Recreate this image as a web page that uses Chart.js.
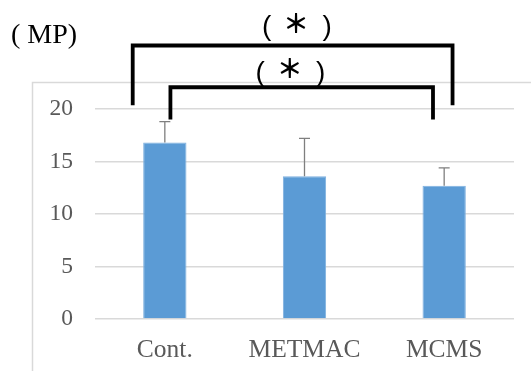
<!DOCTYPE html>
<html>
<head>
<meta charset="utf-8">
<script src="https://cdn.jsdelivr.net/npm/chart.js@4.4.1/dist/chart.umd.min.js"></script>
<style>
  html, body { margin: 0; padding: 0; background: #fff; }
  canvas { display: block; }
</style>
</head>
<body>
<canvas id="chart" width="531" height="371"></canvas>
<script>
// Datos del gráfico
const categorias = ['Cont.', 'METMAC', 'MCMS'];
const medias = [16.8, 13.6, 12.7];
const errores = [2.0, 3.6, 1.7];
const ticksY = [0, 5, 10, 15, 20];

// Corchetes de significancia: x en índice de categoría, y en valor del eje
const corchetes = [
  { x1: -0.23, x2: 2.06, yTop: 26.05, yBottom: 20.35, labelX: 0.94, labelY: 27.74 },
  { x1: 0.04, x2: 1.92, yTop: 22.07, yBottom: 19.0, labelX: 0.894, labelY: 23.44 }
];

const serif = '"Liberation Serif", "Times New Roman", serif';

// Plugin para marco, barras de error, corchetes y unidad
const extras = {
  id: 'extras',
  beforeDraw(chart) {
    const ctx = chart.ctx;
    ctx.save();
    ctx.strokeStyle = '#d9d9d9';
    ctx.lineWidth = 1.5;
    ctx.beginPath();
    ctx.moveTo(32.5, 371);
    ctx.lineTo(32.5, 82.5);
    ctx.lineTo(531, 82.5);
    ctx.stroke();
    ctx.restore();
  },
  afterDatasetsDraw(chart) {
    const ctx = chart.ctx;
    const x = chart.scales.x;
    const y = chart.scales.y;
    ctx.save();

    // barras de error (sólo hacia arriba)
    ctx.strokeStyle = '#7f7f7f';
    ctx.lineWidth = 1.3;
    medias.forEach((m, i) => {
      const px = x.getPixelForValue(i);
      const top = y.getPixelForValue(m + errores[i]);
      ctx.beginPath();
      ctx.moveTo(px, y.getPixelForValue(m));
      ctx.lineTo(px, top);
      ctx.moveTo(px - 5.5, top);
      ctx.lineTo(px + 5.5, top);
      ctx.stroke();
    });

    // corchetes
    const px = v => x.getPixelForValue(0) + v * (x.getPixelForValue(1) - x.getPixelForValue(0));
    ctx.strokeStyle = '#000';
    ctx.lineWidth = 3.8;
    ctx.lineJoin = 'miter';
    ctx.lineCap = 'butt';
    corchetes.forEach(c => {
      ctx.beginPath();
      ctx.moveTo(px(c.x1), y.getPixelForValue(c.yBottom));
      ctx.lineTo(px(c.x1), y.getPixelForValue(c.yTop));
      ctx.lineTo(px(c.x2), y.getPixelForValue(c.yTop));
      ctx.lineTo(px(c.x2), y.getPixelForValue(c.yBottom));
      ctx.stroke();

      const cx = px(c.labelX);
      const cy = y.getPixelForValue(c.labelY);
      ctx.fillStyle = '#000';
      ctx.textAlign = 'center';
      ctx.textBaseline = 'middle';
      ctx.font = '28px "Liberation Sans", sans-serif';
      ctx.fillText('(', cx - 29.5, cy);
      ctx.fillText(')', cx + 31, cy);
      ctx.font = 'bold 26px "Noto Sans CJK JP"';
      ctx.fillText('＊', cx, cy - 5);
    });

    // unidad
    ctx.fillStyle = '#000';
    ctx.font = '28px ' + serif;
    ctx.textAlign = 'left';
    ctx.textBaseline = 'middle';
    ctx.fillText('( MP)', 11, 36);
    ctx.restore();
  }
};

const data_barras = {
  labels: categorias,
  datasets: [{
    data: medias,
    backgroundColor: '#5b9bd5',
    borderColor: '#7eb0df',
    borderWidth: 1,
    barPercentage: 0.62,
    categoryPercentage: 0.5
  }]
};

const config_barras = {
  type: 'bar',
  data: data_barras,
  options: {
    responsive: false,
    animation: false,
    layout: { padding: { left: 0, top: 109, right: 17, bottom: 0 } },
    plugins: {
      legend: { display: false },
      tooltip: { enabled: false }
    },
    scales: {
      x: {
        grid: { display: false, drawTicks: false },
        border: { display: false },
        ticks: {
          color: '#595959',
          font: { family: serif, size: 25.5 },
          padding: 16
        },
        afterFit(s) { s.height = 52; }
      },
      y: {
        min: 0,
        max: 20,
        afterBuildTicks(s) { s.ticks = ticksY.map(v => ({ value: v })); },
        grid: { color: '#d9d9d9', lineWidth: 1.5, drawTicks: false },
        border: { display: false },
        ticks: {
          color: '#595959',
          font: { family: serif, size: 23.5 },
          padding: 22
        },
        afterFit(s) { s.width = 95; }
      }
    }
  },
  plugins: [extras]
};

const miGrafico = new Chart(document.getElementById('chart'), config_barras);
</script>
</body>
</html>
